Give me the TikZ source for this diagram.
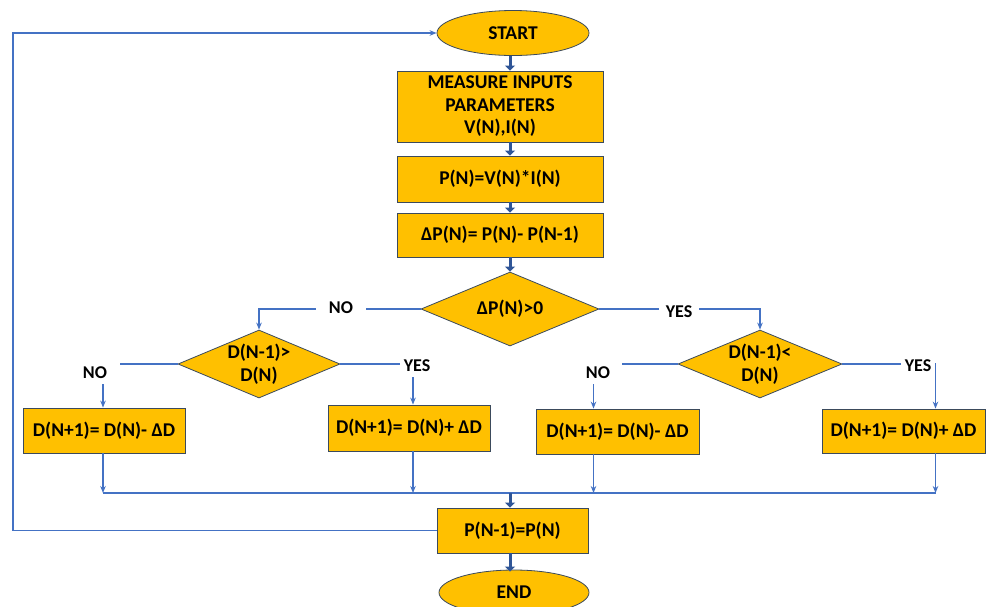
\documentclass[tikz,border=0pt]{standalone}
\usepackage{fontspec}
\setmainfont{Carlito}
\usetikzlibrary{shapes.geometric,arrows.meta}
\definecolor{boxfill}{HTML}{FFC000}
\definecolor{boxline}{HTML}{3B4A5C}
\definecolor{flow}{HTML}{4472C4}
\definecolor{flowdark}{HTML}{2F5597}
\tikzset{
  stepbox/.style={draw=boxline, line width=0.8pt, fill=boxfill, rectangle, inner sep=0pt,
    align=center, font=\bfseries\fontsize{19.5}{22.5}\selectfont},
  termbox/.style={stepbox, ellipse},
  testbox/.style={stepbox, diamond, aspect=2.4},
  flowline/.style={draw=flow, line width=1.5pt, -{Stealth[length=7pt,width=5.5pt]}},
  plainline/.style={draw=flow, line width=1.5pt},
  mainarrow/.style={draw=flowdark, line width=3pt, -{Triangle[length=5pt,width=10pt]}},
  answer/.style={fill=white, inner ysep=2pt, minimum height=22pt, font=\bfseries\fontsize{18}{21}\selectfont}
}
\begin{document}
\begin{tikzpicture}[x=1pt,y=-1pt]
\useasboundingbox (0,0) rectangle (987,606);
\fill[white] (0,0) rectangle (987,606);

% column of main steps
\coordinate (colx) at (510,0);
\coordinate (mrg) at (0,493);
\coordinate (loopx) at (13,0);

\node[termbox, minimum width=152pt, minimum height=45pt] (start) at (513,33) {START};
\node[stepbox, minimum width=206pt, minimum height=71pt] (measure) at (500,106.5)
  {MEASURE INPUTS\\PARAMETERS\\V(N),I(N)};
\node[stepbox, minimum width=206pt, minimum height=46pt] (pn) at (500,179) {P(N)=V(N)*I(N)};
\node[stepbox, minimum width=206pt, minimum height=44pt] (dp) at (500,235) {ΔP(N)= P(N)- P(N-1)};

% decisions
\node[testbox, minimum width=178pt, minimum height=74pt] (dm) at (510,309) {ΔP(N)>0};
\node[testbox, minimum width=162pt, minimum height=68pt] (dl) at (259,364) {D(N-1)>\\D(N)};
\node[testbox, minimum width=164pt, minimum height=68pt] (dr) at (760,364) {D(N-1)<\\D(N)};

% duty-cycle updates
\node[stepbox, minimum width=162pt, minimum height=45pt] (bLL) at (104,430.5) {D(N+1)= D(N)- ΔD};
\node[stepbox, minimum width=162pt, minimum height=46pt] (bLR) at (409,428) {D(N+1)= D(N)+ ΔD};
\node[stepbox, minimum width=163pt, minimum height=45pt] (bRL) at (617.5,431.5) {D(N+1)= D(N)- ΔD};
\node[stepbox, minimum width=163pt, minimum height=44pt] (bRR) at (903.5,431) {D(N+1)= D(N)+ ΔD};

\node[stepbox, minimum width=151pt, minimum height=45pt] (last) at (512.5,530.5) {P(N-1)=P(N)};
\node[termbox, minimum width=150pt, minimum height=45pt] (end) at (514,592.5) {END};

% main column arrows
\draw[mainarrow] (start.south -| colx) -- (measure.north -| colx);
\draw[mainarrow] (measure.south -| colx) -- (pn.north -| colx);
\draw[mainarrow] (pn.south -| colx) -- (dp.north -| colx);
\draw[mainarrow] (dp.south -| colx) -- (dm.north -| colx);

% branches
\draw[flowline] (dm.west) -| (dl.north);
\draw[flowline] (dm.east) -| (dr.north);
\draw[flowline] (dl.west) -| ([xshift=-1pt]bLL.north);
\draw[flowline] (dl.east) -| ([xshift=4pt]bLR.north);
\draw[flowline] (dr.west) -| ([xshift=-24pt]bRL.north);
\draw[flowline] (dr.east) -| ([xshift=32pt]bRR.north);

\node[answer, inner xsep=13pt] (noM) at (341,308) {NO};
\node[answer, inner xsep=7pt] (yesM) at (679,312) {YES};
\node[answer, inner xsep=13pt] (noL) at (95,373) {NO};
\node[answer, inner xsep=4pt] (yesL) at (417,366) {YES};
\node[answer, inner xsep=12pt] (noR) at (598,373) {NO};
\node[answer, inner xsep=4pt, minimum height=36pt] (yesR) at (918,366) {YES};

% merge into the last step
\draw[flowline] ([xshift=-1pt]bLL.south) -- ([xshift=-1pt]bLL.south |- mrg);
\draw[flowline] ([xshift=4pt]bLR.south) -- ([xshift=4pt]bLR.south |- mrg);
\draw[flowline] ([xshift=-24pt]bRL.south) -- ([xshift=-24pt]bRL.south |- mrg);
\draw[flowline] ([xshift=32pt]bRR.south) -- ([xshift=32pt]bRR.south |- mrg);
\draw[plainline] ([xshift=-1pt]bLL.south |- mrg) -- ([xshift=32pt]bRR.south |- mrg);
\draw[mainarrow] (colx |- mrg) -- (colx |- last.north);
\draw[mainarrow] (colx |- last.south) -- ([yshift=-2pt]colx |- end.north);

% loop back to start
\draw[flowline] (last.west) -- (last.west -| loopx) |- (start.west);
\end{tikzpicture}
\end{document}
